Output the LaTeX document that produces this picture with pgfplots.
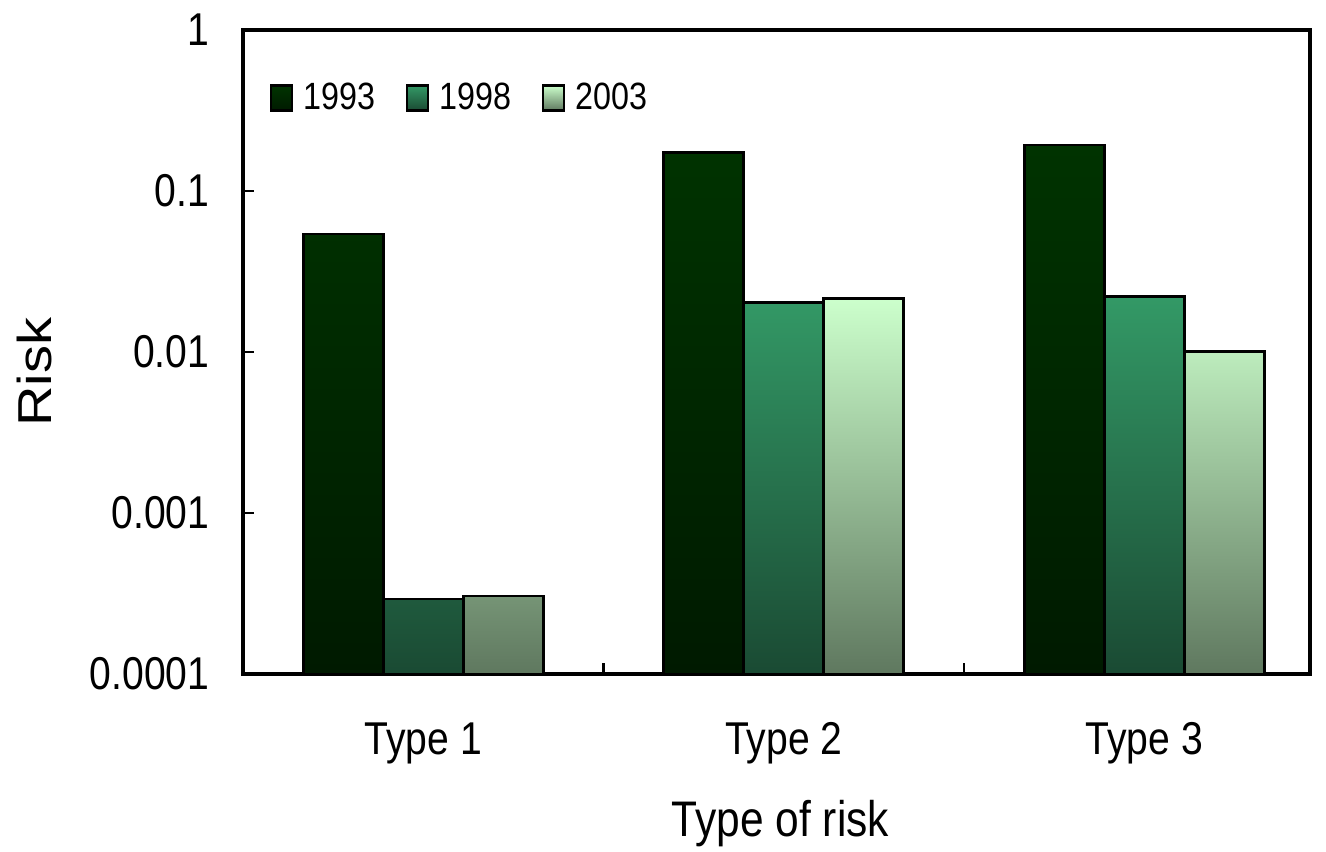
\documentclass[border=0pt]{standalone}
\usepackage{graphicx}
\usepackage{pgfplots}
\pgfplotsset{compat=1.18}
\usepackage{fontspec}
\setmainfont{Liberation Sans}[FakeStretch=0.85]
\newfontfamily\unstretched{Liberation Sans}
\definecolor{aT}{HTML}{003300}
\definecolor{aB}{HTML}{001A00}
\definecolor{bT}{HTML}{339966}
\definecolor{bB}{HTML}{1A4A33}
\definecolor{cT}{HTML}{CCFFCC}
\definecolor{cB}{HTML}{5F785F}
\begin{document}
\begin{tikzpicture}
\begin{axis}[
  scale only axis,
  width=533.5pt, height=322pt,
  ybar=0pt, bar width=40pt,
  ymode=log, log origin=infty,
  ymin=1e-4, ymax=1,
  xmin=0.5, xmax=3.4598,
  ytick={1e-4,1e-3,1e-2,1e-1,1},
  yticklabels={0.0001,0.001,0.01,0.1,1},
  yminorticks=false,
  xtick={1.5,2.5},
  xticklabels={},
  extra x ticks={1,2,3},
  extra x tick labels={Type 1,Type 2,Type 3},
  extra x tick style={major tick length=0pt},
  tick style={line width=1.3pt,black},
  major tick length=5.5pt,
  tick align=inside,
  xtick align=inside,
  ytick align=inside,
  xtick pos=bottom, ytick pos=left,
  axis line style={line width=1.6pt},
  tick label style={font=\fontsize{23}{26}\selectfont},
  /pgf/number format/assume math mode=true,
  xticklabel style={anchor=base, yshift=-40pt},
  yticklabel style={xshift=-13.3pt},
  xlabel={Type of risk},
  ylabel={\scalebox{1}[0.85]{Risk}},
  xlabel style={font=\fontsize{25}{30}\selectfont, at={(axis description cs:0.5037,-0.2516)}, anchor=base},
  ylabel style={font=\unstretched\fontsize{28}{32}\selectfont, at={(axis description cs:-0.19588,0.46894)}, anchor=center},
  legend style={at={(axis description cs:0.0253,0.8944)}, anchor=west, draw=none, fill=none,
    inner sep=0pt, outer sep=0pt,
    legend columns=-1, font=\fontsize{19}{22}\selectfont,
    /tikz/every odd column/.append style={column sep=3.2pt},
    /tikz/every even column/.append style={column sep=13.2pt}},
  legend image code/.code={\draw[#1,line width=1.1pt] (0pt,-6.25pt) rectangle (10.5pt,6.25pt);},
]
\addplot[draw=black, line width=1.3pt, top color=aT, bottom color=aB] coordinates {(1,0.054) (2,0.174) (3,0.193)};
\addplot[draw=black, line width=1.3pt, top color=bT, bottom color=bB] coordinates {(1,0.000293) (2,0.0203) (3,0.0221)};
\addplot[draw=black, line width=1.3pt, top color=cT, bottom color=cB] coordinates {(1,0.000306) (2,0.0215) (3,0.0101)};
\legend{1993,1998,2003}
\coordinate (bl) at (rel axis cs:-0.22774,-0.27484);
\coordinate (tr) at (rel axis cs:1.015,1.04658);
\end{axis}
\pgfresetboundingbox
\path (bl) rectangle (tr);
\end{tikzpicture}
\end{document}
